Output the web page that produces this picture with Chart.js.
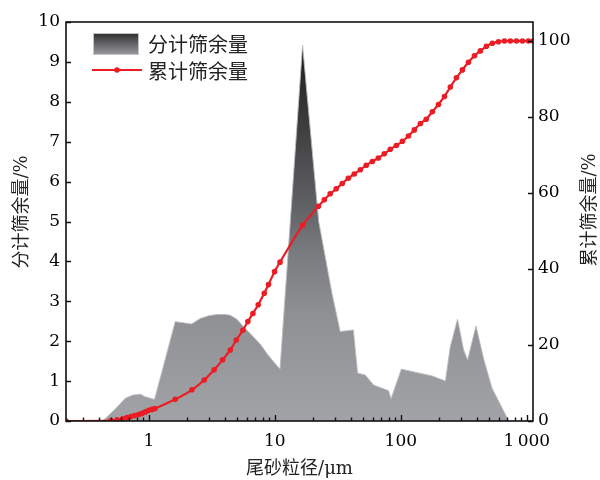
<!DOCTYPE html>
<html>
<head>
<meta charset="utf-8">
<script src="https://cdn.jsdelivr.net/npm/chart.js@4/dist/chart.umd.min.js"></script>
<style>
  html, body { margin: 0; padding: 0; background: #fff; }
</style>
</head>
<body>
<canvas id="grafico" width="600" height="480"></canvas>
<script>
// 分计筛余量 (%) per particle size (µm)
const distSize = [0.22, 0.43, 0.55, 0.65, 0.75, 0.86, 0.93, 1.11, 1.62, 2.19, 2.56, 3.0, 3.47, 4.0, 4.42, 5.0,
  5.5, 6.8, 7.7, 8.7, 9.8, 11.0, 16.6, 22.3, 28.4, 33.0, 42.0, 45.4, 52.2, 60.8, 80, 83.6, 101,
  177, 226, 247, 282, 315, 339, 395, 455, 530, 718, 1120];
const distValue = [0, 0, 0.32, 0.57, 0.65, 0.67, 0.61, 0.54, 2.49, 2.43, 2.57, 2.64, 2.67, 2.67, 2.65, 2.55,
  2.4, 2.1, 1.92, 1.68, 1.48, 1.3, 9.42, 5.0, 3.2, 2.24, 2.28, 1.2, 1.15, 0.9, 0.76, 0.55, 1.3,
  1.13, 1.0, 1.86, 2.55, 1.78, 1.53, 2.38, 1.55, 0.82, 0, 0];

// 累计筛余量 (%) per particle size (µm)
const cumSize = [0.22, 0.5, 0.56, 0.62, 0.67, 0.72, 0.77, 0.83, 0.88, 0.94, 1.0, 1.06, 1.12,
  1.62, 2.2, 2.75, 3.3, 3.85, 4.43, 4.94, 5.58, 6.11, 6.7, 7.38, 8.24, 8.91, 9.95, 11.0, 16.6, 22.2,
  24.7, 27.5, 30.7, 34.3, 38.3, 42.7, 47.7, 53.2, 59.4, 66.3, 73.9, 82.5, 92.1, 103, 115, 128, 143,
  159, 178, 199, 222, 247, 276, 308, 344, 384, 428, 478, 533, 595, 664, 741, 827, 923, 1030, 1120];
const cumValue = [0, 0.1, 0.3, 0.6, 0.9, 1.2, 1.45, 1.7, 2.0, 2.4, 2.8, 3.05, 3.3,
  5.7, 8.2, 10.8, 13.5, 16.1, 18.7, 21.3, 23.9, 26.2, 28.3, 30.6, 33.6, 35.9, 39.3, 41.8, 51.5, 56.5,
  58.2, 59.8, 61.1, 62.5, 63.9, 65.0, 66.1, 67.3, 68.3, 69.2, 70.3, 71.5, 72.5, 73.6, 75.0, 76.6, 78.3,
  79.4, 81.4, 83.3, 85.4, 87.9, 90.3, 92.4, 94.4, 96.1, 97.4, 98.6, 99.4, 99.8, 100, 100, 100, 100, 100, 100];

const seriesNames = ['分计筛余量', '累计筛余量'];
const xTickValues = [1, 10, 100, 1000];
const xTickLabels = ['1', '10', '100', '1\u2009000'];
const leftTicks = [0, 1, 2, 3, 4, 5, 6, 7, 8, 9, 10];
const rightTicks = [0, 20, 40, 60, 80, 100];
const xTitle = '尾砂粒径/μm';
const leftTitle = '分计筛余量/%';
const rightTitle = '累计筛余量/%';

const NUM_FONT = "'DejaVu Serif', serif";
const CJK_FONT = "'Noto Sans CJK SC', sans-serif";
const RED = '#ec1c24';

function pares(xs, ys) {
    return xs.map(function (x, i) { return { x: x, y: ys[i] }; });
}

// vertical gray ramp: dark at the peak, light at the base
function rampa(context) {
    const chart = context.chart;
    const y = chart.scales.y;
    if (!chart.chartArea || !y) return '#9a9b9f';
    const g = chart.ctx.createLinearGradient(0, y.getPixelForValue(9.5), 0, y.getPixelForValue(0));
    g.addColorStop(0, '#1a1a1a');
    g.addColorStop(0.2, '#3a3a3c');
    g.addColorStop(0.42, '#5e5f63');
    g.addColorStop(0.56, '#7b7c80');
    g.addColorStop(0.72, '#8f9094');
    g.addColorStop(1, '#a2a3a7');
    return g;
}

// frame, inward ticks, y titles and legend
const moldura = {
    id: 'moldura',
    afterDraw(chart) {
        const ctx = chart.ctx;
        const a = chart.chartArea;
        const sx = chart.scales.x, sy = chart.scales.y, sy2 = chart.scales.y2;
        ctx.save();
        ctx.strokeStyle = '#111';
        ctx.lineWidth = 1.6;
        ctx.strokeRect(a.left, a.top, a.right - a.left, a.bottom - a.top);

        ctx.lineWidth = 1.4;
        ctx.beginPath();
        for (let d = 0.1; d < 2000; d *= 10) {
            for (let m = 1; m < 10; m++) {
                const v = m * d;
                if (v <= sx.min || v >= sx.max) continue;
                const px = Math.round(sx.getPixelForValue(v)) + 0.5;
                ctx.moveTo(px, a.bottom);
                ctx.lineTo(px, a.bottom - (m === 1 ? 6 : 3.5));
            }
        }
        leftTicks.forEach(function (v) {
            const py = Math.round(sy.getPixelForValue(v)) + 0.5;
            ctx.moveTo(a.left, py);
            ctx.lineTo(a.left + 5, py);
        });
        rightTicks.forEach(function (v) {
            const py = Math.round(sy2.getPixelForValue(v)) + 0.5;
            ctx.moveTo(a.right, py);
            ctx.lineTo(a.right - 5, py);
        });
        ctx.stroke();

        // y axis titles, both reading bottom to top
        ctx.fillStyle = '#222';
        ctx.textAlign = 'center';
        ctx.textBaseline = 'middle';
        ctx.font = '18px ' + NUM_FONT + ', ' + CJK_FONT;
        [[22, 212, leftTitle], [590, 210, rightTitle]].forEach(function (t) {
            ctx.save();
            ctx.translate(t[0], t[1]);
            ctx.rotate(-Math.PI / 2);
            ctx.fillText(t[2], 0, 0);
            ctx.restore();
        });

        // legend
        const lx = a.left + 27;
        const g = ctx.createLinearGradient(0, 33, 0, 55);
        g.addColorStop(0, '#2e2e2e');
        g.addColorStop(1, '#9a9b9f');
        ctx.fillStyle = g;
        ctx.fillRect(lx, 33, 46, 22);
        ctx.strokeStyle = '#c4c5c8';
        ctx.lineWidth = 1;
        ctx.strokeRect(lx + 0.5, 33.5, 45, 21);

        ctx.strokeStyle = RED;
        ctx.lineWidth = 2.2;
        ctx.beginPath();
        ctx.moveTo(lx - 1, 70);
        ctx.lineTo(lx + 49, 70);
        ctx.stroke();
        ctx.fillStyle = RED;
        ctx.beginPath();
        ctx.arc(lx + 24, 70, 2.8, 0, Math.PI * 2);
        ctx.fill();

        ctx.fillStyle = '#222';
        ctx.textAlign = 'left';
        ctx.font = '20px ' + CJK_FONT;
        ctx.fillText(chart.data.datasets[1].label, lx + 55, 44);
        ctx.fillText(chart.data.datasets[0].label, lx + 55, 71);
        ctx.restore();
    }
};

new Chart(document.getElementById('grafico'), {
    type: 'line',
    data: {
        datasets: [
            {
                label: seriesNames[1],
                data: pares(cumSize, cumValue),
                yAxisID: 'y2',
                borderColor: RED,
                backgroundColor: RED,
                borderWidth: 2.2,
                pointRadius: 2.8,
                pointBackgroundColor: RED,
                pointBorderWidth: 0,
                cubicInterpolationMode: 'monotone',
                fill: false,
                order: 1
            },
            {
                label: seriesNames[0],
                data: pares(distSize, distValue),
                yAxisID: 'y',
                borderColor: 'rgba(185,186,190,0.9)',
                borderWidth: 1,
                backgroundColor: rampa,
                pointRadius: 0,
                tension: 0,
                fill: 'origin',
                order: 2
            }
        ]
    },
    options: {
        responsive: false,
        animation: false,
        devicePixelRatio: 1,
        layout: { padding: { top: 22, left: 0, right: 0, bottom: 0 } },
        plugins: {
            legend: { display: false },
            tooltip: { enabled: false }
        },
        scales: {
            x: {
                type: 'logarithmic',
                min: 0.22,
                max: 1120,
                grid: { display: false, drawTicks: false },
                border: { display: false },
                afterBuildTicks: function (s) {
                    s.ticks = xTickValues.map(function (v) { return { value: v }; });
                },
                afterFit: function (s) { s.height = 59; },
                ticks: {
                    autoSkip: false,
                    maxRotation: 0,
                    padding: 10,
                    color: '#000',
                    font: { family: NUM_FONT, size: 17 },
                    callback: function (v, i) { return xTickLabels[i]; }
                },
                title: {
                    display: true,
                    text: xTitle,
                    color: '#222',
                    font: { family: NUM_FONT + ', ' + CJK_FONT, size: 18, lineHeight: 1.2 },
                    padding: { top: 0, bottom: 0 }
                }
            },
            y: {
                position: 'left',
                min: 0,
                max: 10,
                grid: { display: false, drawTicks: false },
                border: { display: false },
                afterBuildTicks: function (s) {
                    s.ticks = leftTicks.map(function (v) { return { value: v }; });
                },
                afterFit: function (s) { s.width = 66; },
                ticks: {
                    padding: 6,
                    color: '#000',
                    font: { family: NUM_FONT, size: 17 }
                }
            },
            y2: {
                position: 'right',
                min: 0,
                max: 105,
                grid: { display: false, drawTicks: false },
                border: { display: false },
                afterBuildTicks: function (s) {
                    s.ticks = rightTicks.map(function (v) { return { value: v }; });
                },
                afterFit: function (s) { s.width = 67; },
                ticks: {
                    padding: 5,
                    color: '#000',
                    font: { family: NUM_FONT, size: 17 }
                }
            }
        }
    },
    plugins: [moldura]
});
</script>
</body>
</html>
